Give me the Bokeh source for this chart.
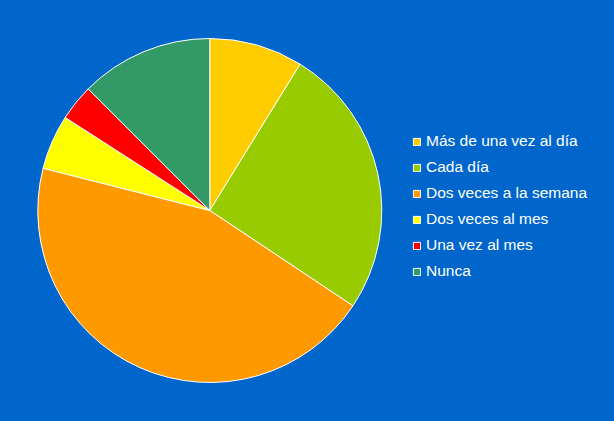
import numpy as np
from bokeh.plotting import figure
from bokeh.models import Legend, LegendItem, ColumnDataSource, GlobalInlineStyleSheet
from bokeh.embed import file_html
from bokeh.resources import INLINE

categories = ["Más de una vez al día", "Cada día", "Dos veces a la semana",
              "Dos veces al mes", "Una vez al mes", "Nunca"]
values = [8.8, 25.55, 44.6, 5.15, 3.4, 12.5]
colors = ["#FFCC00", "#99CC00", "#FF9900", "#FFFF00", "#FF0000", "#339966"]
BG = "#0066CC"

W, H = 598, 405
frac = np.array(values) / sum(values)
cum = np.concatenate([[0], np.cumsum(frac)])
start = np.pi / 2 - 2 * np.pi * cum[:-1]
end = np.pi / 2 - 2 * np.pi * cum[1:]

p = figure(width=W, height=H, x_range=(0, W), y_range=(0, H),
           output_backend="svg", toolbar_location=None, min_border=0,
           background_fill_color=BG, border_fill_color=BG)
p.axis.visible = False
p.grid.visible = False
p.outline_line_color = None

cx, cy, r = 209.3, 195.0, 172.0
items = []
for i, cat in enumerate(categories):
    src = ColumnDataSource(dict(x=[cx], y=[cy], s=[start[i]], e=[end[i]]))
    rr = p.wedge(x="x", y="y", radius=r, start_angle="s", end_angle="e",
                 direction="clock", source=src, fill_color=colors[i],
                 line_color="white", line_width=1)
    items.append(LegendItem(label=cat, renderers=[rr]))

legend = Legend(items=items, location=(412, 124),
                background_fill_alpha=0, border_line_color=None,
                label_text_color="white", label_text_font="Liberation Sans",
                label_text_font_size="15.5px", glyph_width=9, glyph_height=9,
                label_height=20, spacing=6, label_standoff=5,
                padding=0, margin=0)
p.add_layout(legend, "center")

p.stylesheets = [GlobalInlineStyleSheet(css="html, body { background: #0066CC; }")]

open("out.html", "w").write(file_html(p, INLINE))
